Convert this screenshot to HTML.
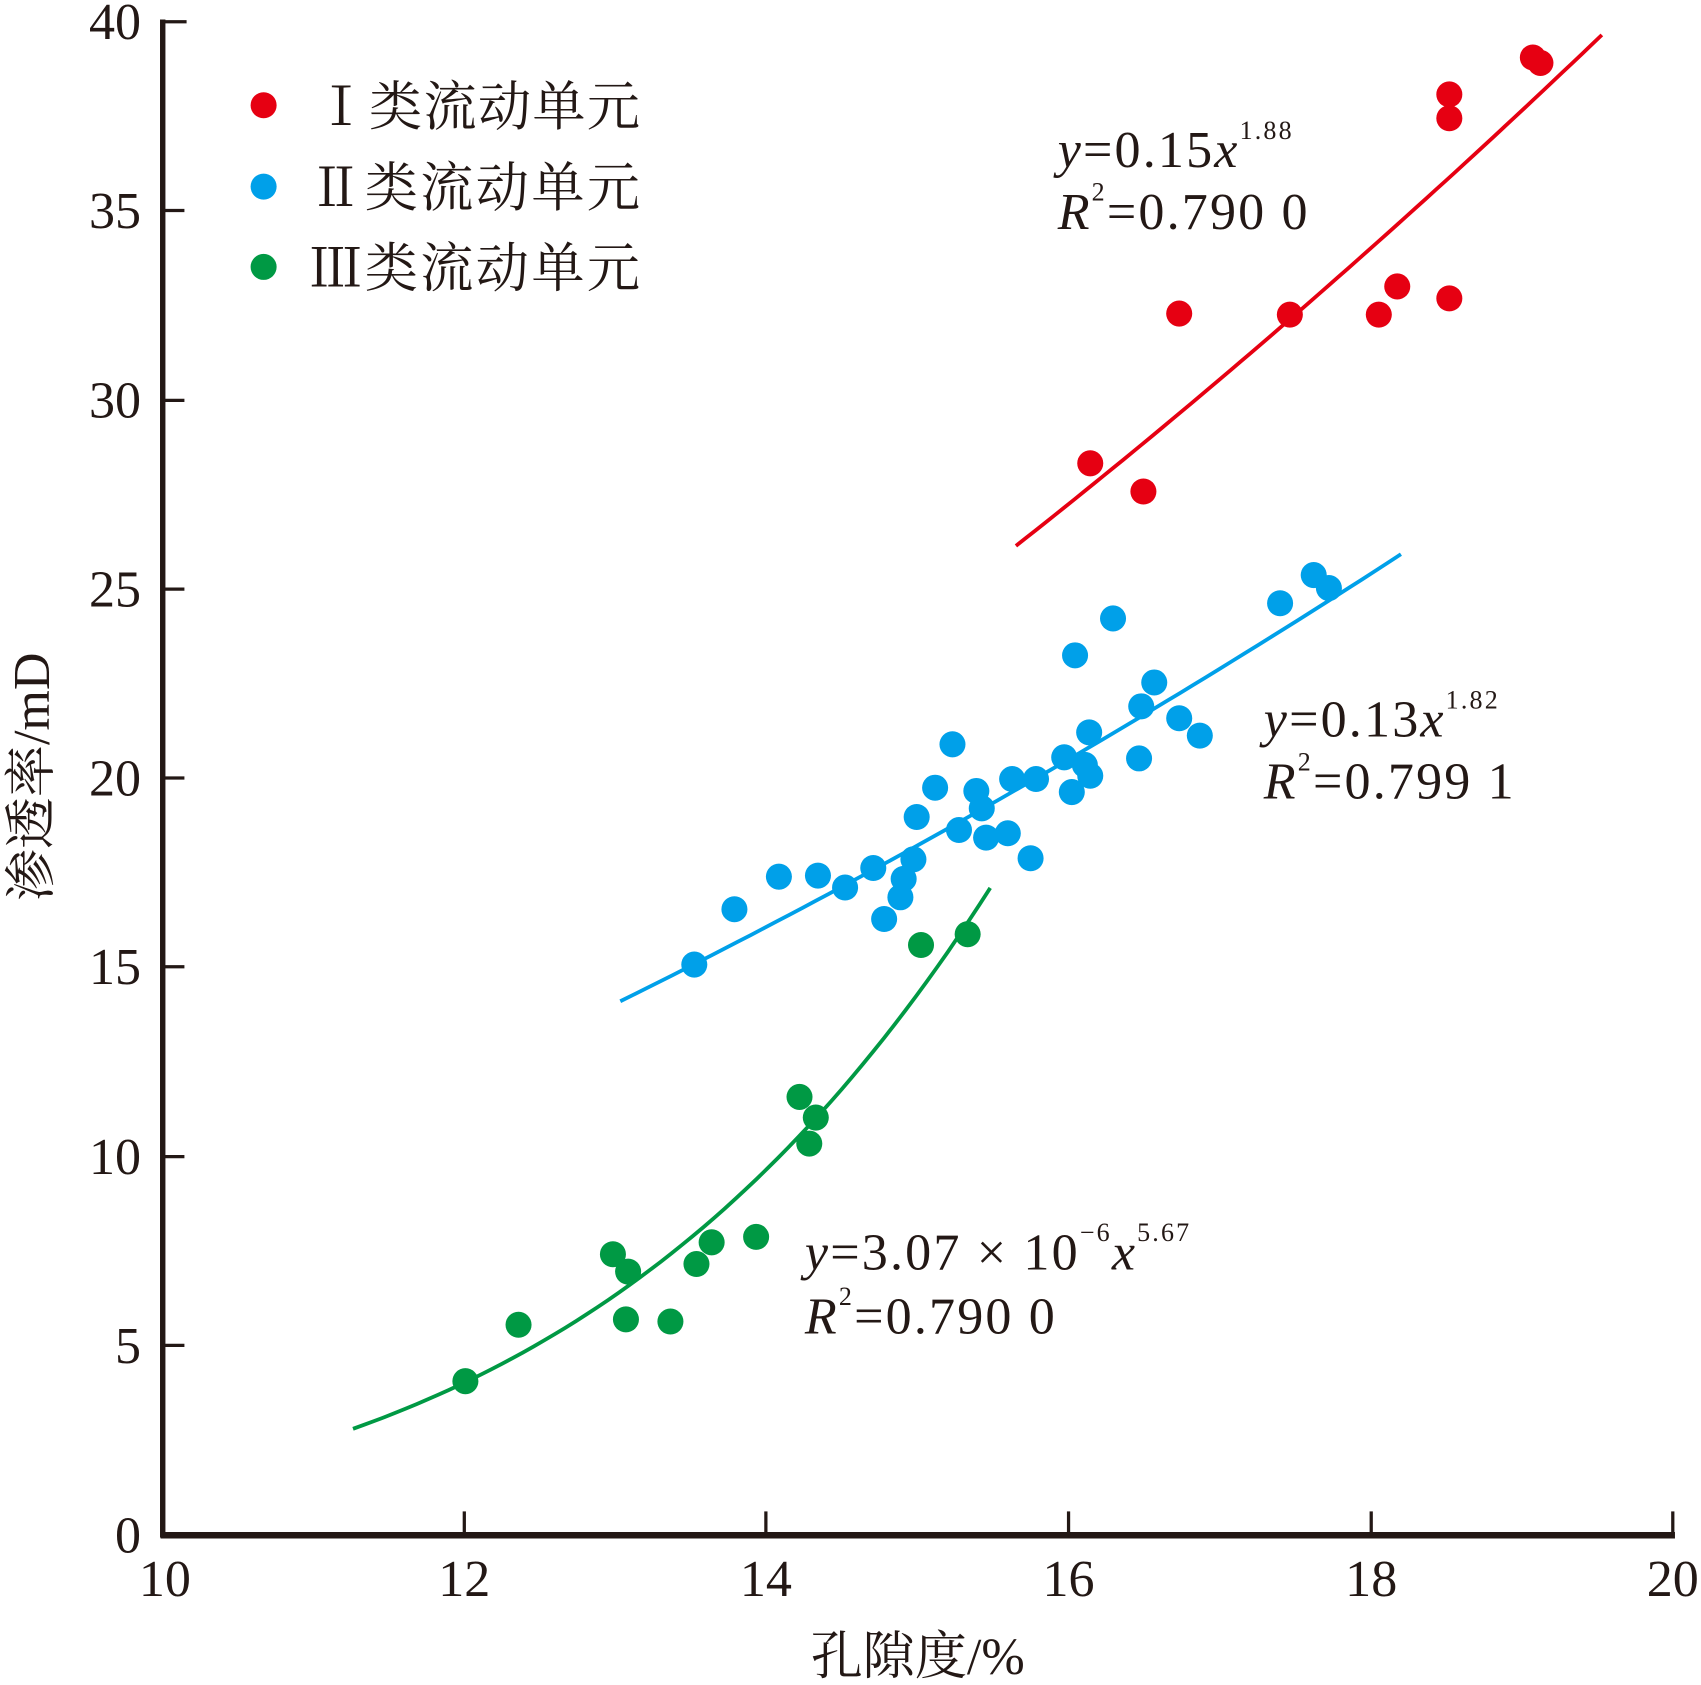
<!DOCTYPE html>
<html><head><meta charset="utf-8"><style>
html,body{margin:0;padding:0;background:#fff;}
svg{display:block;}
text{font-family:"Liberation Serif","Noto Serif CJK SC",serif;fill:#231815;}
</style></head><body>
<svg id="s" width="1701" height="1685" viewBox="0 0 1568 1553" preserveAspectRatio="none" xmlns="http://www.w3.org/2000/svg">
<g stroke="#231815" fill="none">
<line x1="150" y1="18" x2="150" y2="1417" stroke-width="5"/>
<line x1="148" y1="1415" x2="1544" y2="1415" stroke-width="6"/>
<g stroke-width="3">
<line x1="150" y1="20" x2="172" y2="20"/><line x1="150" y1="194" x2="170" y2="194"/>
<line x1="150" y1="369" x2="170" y2="369"/><line x1="150" y1="543" x2="170" y2="543"/>
<line x1="150" y1="717" x2="170" y2="717"/><line x1="150" y1="891" x2="170" y2="891"/>
<line x1="150" y1="1066" x2="170" y2="1066"/><line x1="150" y1="1240" x2="170" y2="1240"/>
<line x1="428" y1="1415" x2="428" y2="1393"/><line x1="706" y1="1415" x2="706" y2="1393"/>
<line x1="985" y1="1415" x2="985" y2="1393"/><line x1="1264" y1="1415" x2="1264" y2="1393"/>
<line x1="1542" y1="1415" x2="1542" y2="1393"/>
</g></g>
<g font-size="48" text-anchor="end">
<text x="130" y="36">40</text><text x="130" y="210">35</text><text x="130" y="385">30</text>
<text x="130" y="559">25</text><text x="130" y="733">20</text><text x="130" y="907">15</text>
<text x="130" y="1082">10</text><text x="130" y="1256">5</text><text x="130" y="1431">0</text>
</g>
<g font-size="48" text-anchor="middle">
<text x="152" y="1471">10</text><text x="428" y="1471">12</text><text x="706" y="1471">14</text>
<text x="985" y="1471">16</text><text x="1264" y="1471">18</text><text x="1542" y="1471">20</text>
</g>
<text x="846" y="1543" font-size="48" text-anchor="middle">孔隙度/%</text>
<text transform="translate(45,716) rotate(-90)" font-size="48" text-anchor="middle">渗透率/mD</text>
<circle cx="243" cy="97" r="12" fill="#e60012"/>
<circle cx="243" cy="172" r="12" fill="#00a0e9"/>
<circle cx="243" cy="246" r="12" fill="#009944"/>
<g font-size="49">
<text x="290" y="115" textLength="300">Ⅰ类流动单元</text>
<text x="285" y="190" textLength="305">Ⅱ类流动单元</text>
<text x="285" y="264" textLength="305">Ⅲ类流动单元</text>
</g>
<g font-size="48" letter-spacing="2">
<text x="975" y="154"><tspan font-style="italic">y</tspan>=0.15<tspan font-style="italic">x</tspan><tspan font-size="24" dy="-26">1.88</tspan></text>
<text x="975" y="211"><tspan font-style="italic">R</tspan><tspan font-size="24" dy="-26">2</tspan><tspan dy="26">=0.790 0</tspan></text>
<text x="1165" y="679"><tspan font-style="italic">y</tspan>=0.13<tspan font-style="italic">x</tspan><tspan font-size="24" dy="-26">1.82</tspan></text>
<text x="1165" y="736"><tspan font-style="italic">R</tspan><tspan font-size="24" dy="-26">2</tspan><tspan dy="26">=0.799 1</tspan></text>
<text x="742" y="1170"><tspan font-style="italic">y</tspan>=3.07 × 10<tspan font-size="24" dy="-26">−6</tspan><tspan font-style="italic" dy="26">x</tspan><tspan font-size="24" dy="-26">5.67</tspan></text>
<text x="742" y="1229"><tspan font-style="italic">R</tspan><tspan font-size="24" dy="-26">2</tspan><tspan dy="26">=0.790 0</tspan></text>
</g>
<g id="curves" fill="none" stroke-width="3.5"></g>
<g id="pts"></g>
</svg>
<script>
var X=function(x){return 150+(x-10)*139.2},Y=function(y){return 1415-y*34.875};
function curve(f,a,b,c){var d="";for(var i=0;i<=60;i++){var x=a+(b-a)*i/60;d+=(i?"L":"M")+X(x).toFixed(1)+","+Y(f(x)).toFixed(1);}
var p=document.createElementNS("http://www.w3.org/2000/svg","path");p.setAttribute("d",d);p.setAttribute("stroke",c);document.getElementById("curves").appendChild(p);}
curve(function(x){return 0.15*Math.pow(x,1.88)*0.99},15.65,19.53,"#e60012");
curve(function(x){return 0.13*Math.pow(x,1.82)*1.015},13.03,18.2,"#00a0e9");
curve(function(x){return 3.07e-6*Math.pow(x,5.67)},11.26,15.48,"#009944");
var R=[[1005,427],[1054,453],[1087,289],[1189,290],[1271,290],[1288,264],[1336,275],[1336,87],[1336,109],[1413,53],[1420,58]];
var B=[[640,889],[677,838],[718,808],[754,807],[779,818],[805,800],[815,847],[830,827],[833,810],[842,792],[845,753],[862,726],[878,686],[884,765],[900,729],[905,745],[909,772],[929,768],[933,718],[950,791],[955,718],[981,698],[988,730],[991,604],[1000,705],[1004,675],[1005,715],[1026,570],[1050,699],[1052,651],[1064,629],[1087,662],[1106,678],[1180,556],[1211,530],[1225,542]];
var G=[[429,1273],[478,1221],[565,1156],[577,1216],[579,1172],[618,1218],[642,1165],[656,1145],[697,1140],[737,1011],[746,1054],[752,1030],[849,871],[892,861]];
var g=document.getElementById("pts");
[[R,"#e60012"],[B,"#00a0e9"],[G,"#009944"]].forEach(function(s){s[0].forEach(function(p){var c=document.createElementNS("http://www.w3.org/2000/svg","circle");c.setAttribute("cx",p[0]);c.setAttribute("cy",p[1]);c.setAttribute("r",12);c.setAttribute("fill",s[1]);g.appendChild(c);});});
</script>
</body></html>
